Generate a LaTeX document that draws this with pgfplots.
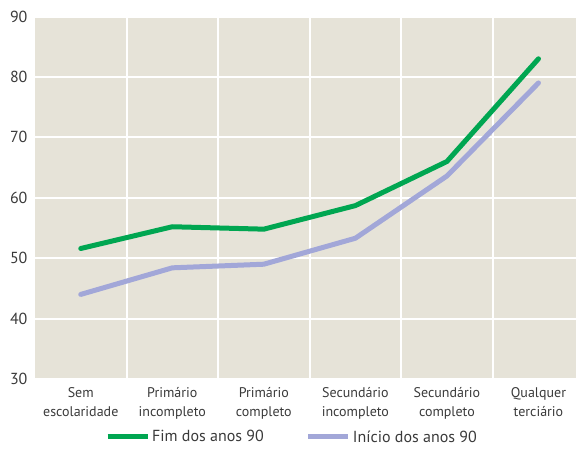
\documentclass[border=0pt]{standalone}
\usepackage{pgfplots}
\pgfplotsset{compat=1.18}
\usepackage{fontspec}
\setmainfont{PT Sans}
\definecolor{bgc}{HTML}{E6E3D8}
\definecolor{gr}{HTML}{00A651}
\definecolor{pu}{HTML}{A2A7D8}
\definecolor{txt}{HTML}{3A3A3A}
\begin{document}
\begin{tikzpicture}[x=1pt,y=1pt]
\begin{axis}[
  at={(0,0)}, anchor=south west,
  scale only axis, width=541pt, height=362.5pt,
  xmin=-0.5, xmax=5.41, ymin=30, ymax=90,
  axis background/.style={fill=bgc},
  axis line style={draw=none},
  major tick length=0pt, minor tick length=0pt,
  xtick={0,1,2,3,4,5},
  xticklabels={Sem\\escolaridade, Primário\\incompleto, Primário\\completo, Secundário\\incompleto, Secundário\\completo, Qualquer\\terciário},
  minor xtick={0.5,1.5,2.5,3.5,4.5},
  xminorgrids, minor grid style={white, line width=2pt},
  ytick={30,40,...,90},
  ymajorgrids, major grid style={white, line width=2pt},
  xticklabel style={align=center, font=\fontsize{14}{19}\selectfont, text=txt, anchor=north, yshift=-5pt},
  yticklabel style={font=\fontsize{16}{18}\selectfont, text=txt, xshift=-4pt},
  /pgf/number format/assume math mode=true,
  legend style={at={(rel axis cs:0.475,-0.16)}, anchor=center, draw=none, fill=none,
    legend columns=2, font=\fontsize{16}{18}\selectfont, text=txt,
    /tikz/every even column/.append style={column sep=40pt}},
  legend image code/.code={\draw[#1, line cap=butt] (0pt,0pt) -- (40pt,0pt);},
  clip=false,
]
\addplot[gr, line width=5pt, line cap=round, line join=round] coordinates {(0,51.6) (1,55.2) (2,54.8) (3,58.7) (4,66.0) (5,83.0)};
\addlegendentry{Fim dos anos 90}
\addplot[pu, line width=5pt, line cap=round, line join=round] coordinates {(0,44.0) (1,48.4) (2,49.0) (3,53.3) (4,63.6) (5,79.0)};
\addlegendentry{Início dos anos 90}
\end{axis}
\pgfresetboundingbox
\useasboundingbox (-35pt,-97pt) rectangle (541pt,379pt);
\end{tikzpicture}
\end{document}
